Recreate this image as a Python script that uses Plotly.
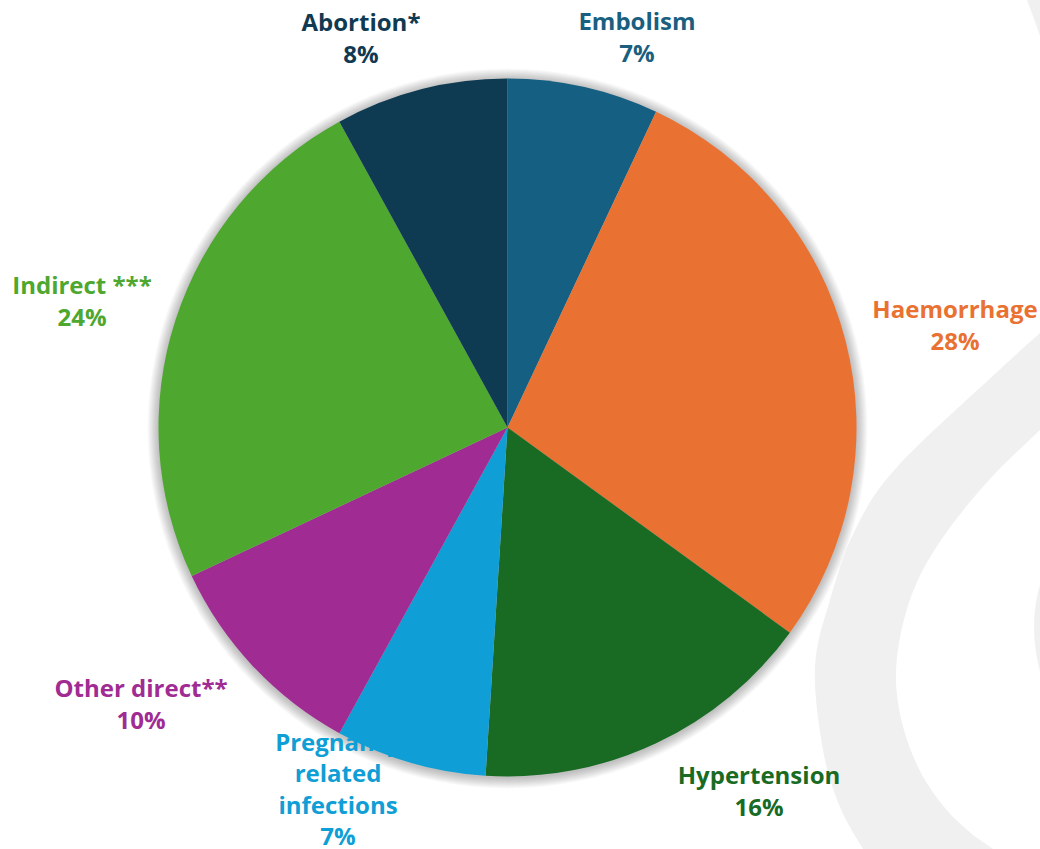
import plotly.graph_objects as go

# Causes of maternal death, share of total (%)
categories = ["Embolism", "Haemorrhage", "Hypertension", "Pregnancy related infections",
              "Other direct**", "Indirect ***", "Abortion*"]
values = [7, 28, 16, 7, 10, 24, 8]
label_lines = ["Embolism", "Haemorrhage", "Hypertension", "Pregnancy<br>related<br>infections",
               "Other direct**", "Indirect ***", "Abortion*"]

slice_colors = ["#156082", "#E97132", "#196B24", "#0F9ED5", "#A02B93", "#4EA72E", "#0E3A52"]
text_colors = ["#1A5F80", "#E97132", "#196B24", "#0F9ED5", "#A02B93", "#4EA72E", "#103A52"]

W, H = 1040, 849
CX, CY, R = 507.5, 427.5, 349.0

# label anchor points (page pixels, y downwards)
label_x = [637, 955, 759, 338, 141, 82, 361]
label_y = [40, 328, 794, 792, 707, 304, 41]


def smooth_path(pts):
    """Catmull-Rom through pts, returned as an SVG path string."""
    d = f"M{pts[0][0]},{pts[0][1]}"
    for i in range(len(pts) - 1):
        p0 = pts[i - 1] if i > 0 else pts[i]
        p1 = pts[i]
        p2 = pts[i + 1]
        p3 = pts[i + 2] if i + 2 < len(pts) else pts[i + 1]
        c1 = (p1[0] + (p2[0] - p0[0]) / 6, p1[1] + (p2[1] - p0[1]) / 6)
        c2 = (p2[0] - (p3[0] - p1[0]) / 6, p2[1] - (p3[1] - p1[1]) / 6)
        d += f" C{c1[0]:.1f},{c1[1]:.1f} {c2[0]:.1f},{c2[1]:.1f} {p2[0]},{p2[1]}"
    return d


# decorative swoosh behind the chart
outer_edge = [(1060, 315), (1040, 333), (997, 372), (897, 467), (855, 530), (830, 600),
              (815, 667), (823, 750), (840, 807), (863, 849), (870, 860)]
inner_edge = [(1003, 860), (993, 849), (972, 834), (945, 808), (921, 773), (904, 730),
              (896, 682), (901, 632), (917, 582), (946, 533), (990, 479), (1040, 430),
              (1060, 412)]

band = smooth_path(outer_edge) + " L" + smooth_path(inner_edge)[1:] + " Z"

shapes = [
    dict(type="path", path=band, xref="x", yref="y", fillcolor="#F0F0F0",
         line=dict(width=0), layer="below"),
    dict(type="path", path="M1027,0 Q1034,18 1040,36 L1040,0 Z", xref="x", yref="y",
         fillcolor="#F0F0F0", line=dict(width=0), layer="below"),
    dict(type="path", path="M1040,585 Q1028,625 1040,672 Z", xref="x", yref="y",
         fillcolor="#F0F0F0", line=dict(width=0), layer="below"),
]

# soft shadow ring around the pie
for k in range(1, 12):
    r = R + k
    shapes.append(dict(type="circle", xref="x", yref="y",
                       x0=CX - r, x1=CX + r, y0=CY - r + 1, y1=CY + r + 1,
                       fillcolor="rgba(0,0,0,0.022)", line=dict(width=0), layer="below"))

fig = go.Figure()

fig.add_trace(go.Scatter(
    x=label_x, y=label_y, mode="text",
    text=[f"{t}<br>{v}%" for t, v in zip(label_lines, values)],
    textposition="middle center",
    textfont=dict(family="Open Sans", size=24, color=text_colors, weight="bold"),
    hoverinfo="skip", showlegend=False,
))

fig.add_trace(go.Pie(
    labels=categories, values=values, sort=False, direction="clockwise", rotation=0,
    marker=dict(colors=slice_colors, line=dict(width=0)),
    textinfo="none", showlegend=False,
    domain=dict(x=[(CX - R) / W, (CX + R) / W], y=[1 - (CY + R) / H, 1 - (CY - R) / H]),
))

fig.update_layout(
    width=W, height=H, margin=dict(l=0, r=0, t=0, b=0),
    paper_bgcolor="white", plot_bgcolor="rgba(0,0,0,0)",
    xaxis=dict(range=[0, W], visible=False, fixedrange=True, domain=[0, 1]),
    yaxis=dict(range=[H, 0], visible=False, fixedrange=True, domain=[0, 1]),
    shapes=shapes,
)

fig.write_html("out.html")
